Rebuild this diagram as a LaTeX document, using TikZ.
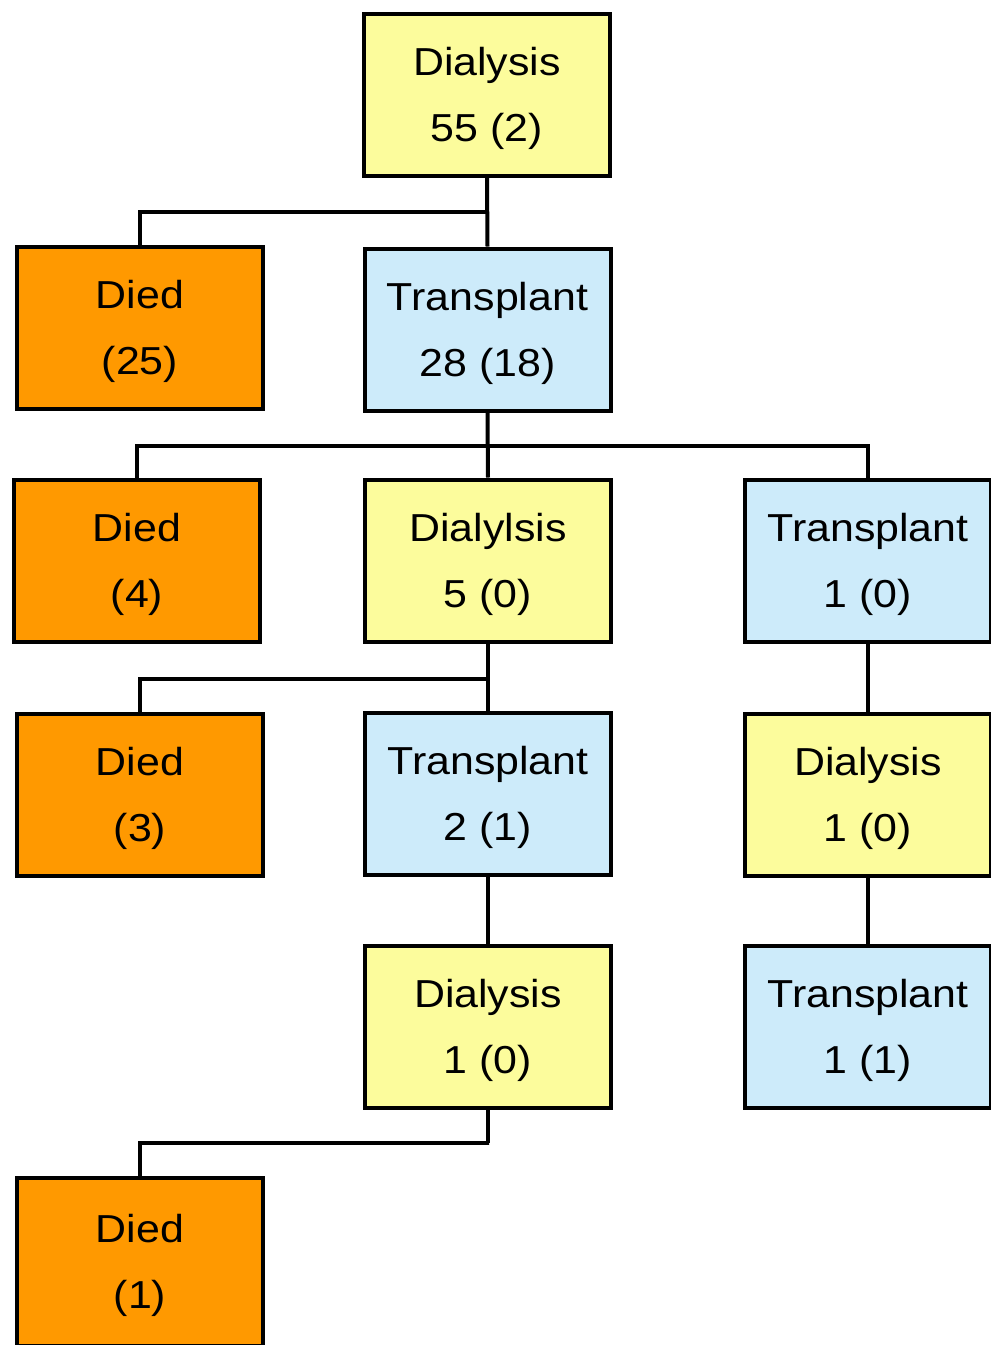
\documentclass[tikz,border=0pt]{standalone}
\usepackage{fontspec}
\setmainfont{Liberation Sans}
\usetikzlibrary{calc}
\definecolor{dyel}{HTML}{FCFC9C}
\definecolor{tblue}{HTML}{CDEBFA}
\definecolor{dorange}{HTML}{FF9900}
\newcommand{\twolines}[2]{\rule{0pt}{36pt}\scalebox{1.1}[1]{#1}\\\scalebox{1.1}[1]{#2}}
\tikzset{
  box/.style={draw=black, line width=4pt, rectangle, minimum width=246pt, minimum height=162pt,
    align=center, inner sep=0pt, font=\fontsize{39}{66}\selectfont, text=black},
  dialbox/.style={box, fill=dyel},
  transbox/.style={box, fill=tblue},
  diedbox/.style={box, fill=dorange},
  conn/.style={draw=black, line width=4pt, line join=miter},
}
\begin{document}
\begin{tikzpicture}[x=1pt,y=-1pt]
\clip (0,0) rectangle (991,1345);
\fill[white] (0,0) rectangle (991,1345);
\coordinate (j1) at (487,212);
\coordinate (j2) at (487,446);
\coordinate (j3) at (488,679);
\coordinate (j4) at (489,1143);
\node[dialbox]  (d0)    at (487,95)     {\twolines{Dialysis}{55 (2)}};
\node[diedbox]  (died1) at (140,328)    {\twolines{Died}{(25)}};
\node[transbox] (t1)    at (487.5,329.5){\twolines{Transplant}{28 (18)}};
\node[diedbox]  (died2) at (137,561)    {\twolines{Died}{(4)}};
\node[dialbox]  (d2)    at (488,560.5)  {\twolines{Dialylsis}{5 (0)}};
\node[transbox] (t2r)   at (868,561)    {\twolines{Transplant}{1 (0)}};
\node[diedbox]  (died3) at (140,794.5)  {\twolines{Died}{(3)}};
\node[transbox] (t3)    at (488,793.5)  {\twolines{Transplant}{2 (1)}};
\node[dialbox]  (d3r)   at (868,794.5)  {\twolines{Dialysis}{1 (0)}};
\node[dialbox]  (d4)    at (488,1026.5) {\twolines{Dialysis}{1 (0)}};
\node[transbox] (t4r)   at (868,1026.5) {\twolines{Transplant}{1 (1)}};
\node[diedbox, minimum height=168pt] (died4) at (140,1262) {\twolines{Died}{(1)}};
\draw[conn] (d0.south) -- (t1.north);
\draw[conn] (died1.north) |- (j1);
\draw[conn] (t1.south) -- (d2.north);
\draw[conn] (died2.north) |- (j2) -| (t2r.north);
\draw[conn] (d2.south) -- (t3.north);
\draw[conn] (died3.north) |- (j3);
\draw[conn] (t3.south) -- (d4.north);
\draw[conn] (t2r.south) -- (d3r.north);
\draw[conn] (d3r.south) -- (t4r.north);
\draw[conn] (d4.south) |- (j4) -| (died4.north);
\end{tikzpicture}
\end{document}
